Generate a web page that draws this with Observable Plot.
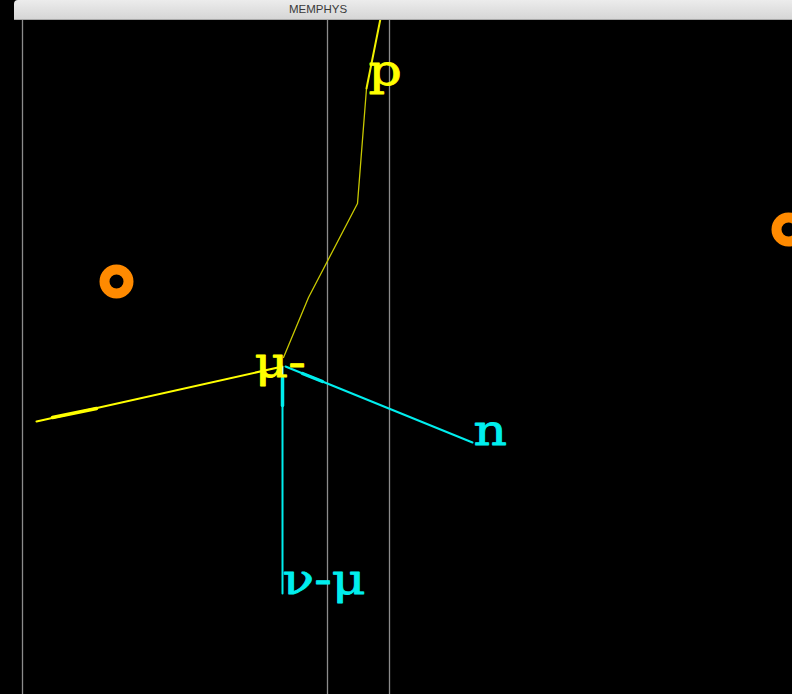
<!DOCTYPE html>
<html>
<head>
<meta charset="utf-8">
<script src="https://cdn.jsdelivr.net/npm/d3@7"></script>
<script src="https://cdn.jsdelivr.net/npm/@observablehq/plot@0.6"></script>
<style>
  html, body { margin: 0; padding: 0; background: #000; width: 792px; height: 694px; overflow: hidden; }
  #titlebar { position: absolute; left: 14px; top: 0; width: 778px; height: 19px;
    background: linear-gradient(#ececec, #d6d6d6); border-bottom: 1px solid #a8a8a8;
    border-top-left-radius: 4px; }
  #title { position: absolute; left: 318px; top: 3px; transform: translateX(-50%);
    font-family: "Liberation Sans", Arial, sans-serif; font-size: 11.5px; color: #3a3a3a; }
  #chart { position: absolute; left: 0; top: 20px; }
</style>
</head>
<body>
<div id="titlebar"></div>
<div id="title">MEMPHYS</div>
<div id="chart"></div>
<script>
// Detector grid lines (x positions)
const gridX = [22, 327, 389];

// Track polylines
const trackNames = ["mu", "mu", "p", "p", "p", "p", "pTop", "pTop", "nu", "nu", "n", "n"];
const trackX =     [36, 282, 283, 308, 357, 366, 366, 380, 282, 282, 285, 472];
const trackY =     [421, 366, 357, 297, 203, 88, 88, 18, 367, 593, 366, 442];

// Thick arrow segments along tracks
const arrowNames = ["mu", "mu", "nu", "nu", "n", "n"];
const arrowX =     [52, 96, 282, 282, 302, 322];
const arrowY =     [417, 408, 378, 405, 373, 381];

// Particle labels
const labels = ["μ-", "p", "n", "ν-μ"];
const labelX = [254, 368, 473, 282];
const labelY = [363, 71, 431, 580];
const labelKind = ["mu", "p", "n", "nu"];

// PMT hit rings
const ringX = [116, 788];
const ringY = [281, 229];

const colors = { mu: "#ffff00", p: "#c9c900", pTop: "#f0f000", n: "#00eeee", nu: "#00eeee" };
const widths = { mu: 2, p: 1.3, pTop: 2, n: 2, nu: 2 };
const labelColors = { mu: "#ffff00", p: "#ffff00", n: "#00eeee", nu: "#00eeee" };

const tracks = trackX.map((x, i) => ({ x, y: trackY[i], name: trackNames[i] }));
const arrows = arrowX.map((x, i) => ({ x, y: arrowY[i], name: arrowNames[i] }));
const labelData = labels.map((t, i) => ({ t, x: labelX[i], y: labelY[i], k: labelKind[i] }));
const rings = ringX.map((x, i) => ({ x, y: ringY[i] }));

const chart = Plot.plot({
  width: 792,
  height: 674,
  margin: 0,
  style: { background: "#000" },
  x: { domain: [0, 792], range: [0, 792], axis: null },
  y: { domain: [20, 694], range: [0, 674], axis: null },
  marks: [
    Plot.ruleX(gridX, { stroke: "#8c8c8c", strokeWidth: 1.3 }),
    ...Object.keys(widths).map(name =>
      Plot.line(tracks.filter(d => d.name === name), { x: "x", y: "y", stroke: colors[name], strokeWidth: widths[name] })),
    Plot.line(arrows, { x: "x", y: "y", z: "name", stroke: d => colors[d.name], strokeWidth: 3.5, strokeLinecap: "round" }),
    Plot.dot(rings, { x: "x", y: "y", r: 12, stroke: "#ff8a00", strokeWidth: 10, fill: "none" }),
    Plot.text(labelData, { x: "x", y: "y", text: "t", fill: d => labelColors[d.k],
      stroke: d => labelColors[d.k], strokeWidth: 0.8,
      textAnchor: "start", fontSize: 42, fontFamily: "DejaVu Serif" })
  ]
});
// widen the label glyphs like the original display font
d3.select(chart).selectAll("g[aria-label=text] text").each(function () {
  const t = this.getAttribute("transform") || "";
  this.setAttribute("transform", t + " scale(1.24,1)");
});
document.getElementById("chart").appendChild(chart);
</script>
</body>
</html>
